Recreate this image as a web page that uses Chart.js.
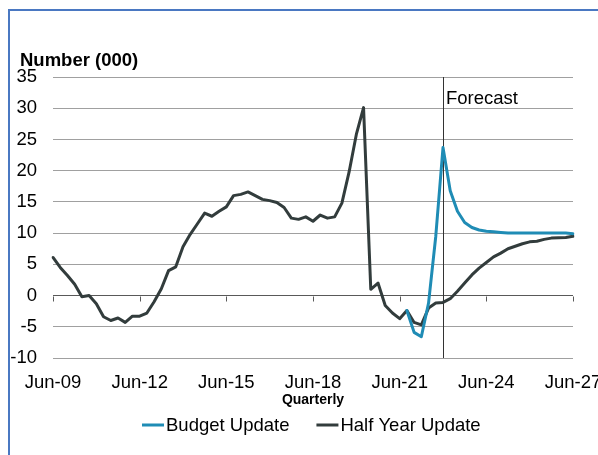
<!DOCTYPE html>
<html>
<head>
<meta charset="utf-8">
<script src="https://cdn.jsdelivr.net/npm/chart.js@4"></script>
<style>
  html, body { margin: 0; padding: 0; background: #fff; }
  .frame {
    position: absolute;
    left: 8px;
    top: 9px;
    width: 600px;
    height: 460px;
    border-top: 2px solid #4a78c2;
    border-left: 2px solid #4a78c2;
  }
  #chart { position: absolute; left: 0; top: 0; }
</style>
</head>
<body>
<div class="frame"></div>
<canvas id="chart" width="598" height="455"></canvas>
<script>
const quarters = [
  'Jun-09', 'Sep-09', 'Dec-09',
  'Mar-10', 'Jun-10', 'Sep-10', 'Dec-10',
  'Mar-11', 'Jun-11', 'Sep-11', 'Dec-11',
  'Mar-12', 'Jun-12', 'Sep-12', 'Dec-12',
  'Mar-13', 'Jun-13', 'Sep-13', 'Dec-13',
  'Mar-14', 'Jun-14', 'Sep-14', 'Dec-14',
  'Mar-15', 'Jun-15', 'Sep-15', 'Dec-15',
  'Mar-16', 'Jun-16', 'Sep-16', 'Dec-16',
  'Mar-17', 'Jun-17', 'Sep-17', 'Dec-17',
  'Mar-18', 'Jun-18', 'Sep-18', 'Dec-18',
  'Mar-19', 'Jun-19', 'Sep-19', 'Dec-19',
  'Mar-20', 'Jun-20', 'Sep-20', 'Dec-20',
  'Mar-21', 'Jun-21', 'Sep-21', 'Dec-21',
  'Mar-22', 'Jun-22', 'Sep-22', 'Dec-22',
  'Mar-23', 'Jun-23', 'Sep-23', 'Dec-23',
  'Mar-24', 'Jun-24', 'Sep-24', 'Dec-24',
  'Mar-25', 'Jun-25', 'Sep-25', 'Dec-25',
  'Mar-26', 'Jun-26', 'Sep-26', 'Dec-26',
  'Mar-27', 'Jun-27'
]

const tickLabels = ['Jun-09', 'Jun-12', 'Jun-15', 'Jun-18', 'Jun-21', 'Jun-24', 'Jun-27']
const forecastStart = 'Dec-22'

const halfYearUpdate = [
  6.1, 4.5, 3.2,
  1.8, -0.2, 0.0, -1.3,
  -3.4, -4.0, -3.6, -4.3,
  -3.3, -3.3, -2.8, -1.0,
  1.1, 4.0, 4.6, 7.8,
  9.8, 11.5, 13.2, 12.7,
  13.5, 14.2, 16.0, 16.2,
  16.6, 16.0, 15.4, 15.2,
  14.9, 14.1, 12.4, 12.2,
  12.6, 11.9, 12.9, 12.4,
  12.6, 14.8, 19.8, 25.8,
  30.1, 1.0, 2.0, -1.6,
  -2.8, -3.7, -2.4, -4.3,
  -4.7, -2.0, -1.2, -1.1,
  -0.5, 0.7, 2.0, 3.3,
  4.4, 5.3, 6.2, 6.8,
  7.5, 7.9, 8.3, 8.6,
  8.7, 9.0, 9.2, 9.25,
  9.3, 9.5
]

// budget update only differs from Sep-21 onwards
const budgetUpdate = Array(49).fill(null).concat([
  -2.4, -5.9,
  -6.6, -1.2, 9.5, 23.7,
  16.8, 13.5, 11.7, 10.9,
  10.5, 10.3, 10.2, 10.1,
  10.0, 10.0, 10.0, 10.0,
  10.0, 10.0, 10.0, 10.0,
  10.0, 9.9
])

const yMin = -10
const yMax = 35
const yStep = 5

const blue = '#1f8cb5'
const dark = '#323c3c'
const gridGray = '#a0a0a0'
const fontFamily = '"Liberation Sans", Arial, sans-serif'
const fontSize = 18.5

const extras = {
  id: 'extras',
  beforeDatasetsDraw(chart) {
    const { ctx, chartArea: a, scales: { x, y } } = chart
    ctx.save()
    ctx.lineWidth = 1
    // small ticks hanging from the zero line
    const y0 = Math.round(y.getPixelForValue(0)) + 0.5
    ctx.strokeStyle = '#595959'
    tickLabels.forEach(l => {
      const px = Math.round(x.getPixelForValue(quarters.indexOf(l))) + 0.5
      ctx.beginPath()
      ctx.moveTo(px, y0)
      ctx.lineTo(px, y0 + 5)
      ctx.stroke()
    })
    // forecast divider
    const fx = Math.round(x.getPixelForValue(quarters.indexOf(forecastStart))) + 0.5
    ctx.strokeStyle = '#333'
    ctx.beginPath()
    ctx.moveTo(fx, a.top)
    ctx.lineTo(fx, a.bottom)
    ctx.stroke()
    ctx.restore()
  },
  afterDraw(chart) {
    const { ctx, chartArea: a, scales: { x } } = chart
    ctx.save()
    ctx.fillStyle = '#000'
    ctx.textBaseline = 'alphabetic'

    const fx = x.getPixelForValue(quarters.indexOf(forecastStart))
    ctx.font = fontSize + 'px ' + fontFamily
    ctx.textAlign = 'left'
    ctx.fillText('Forecast', fx + 3, 104)

    ctx.font = 'bold ' + fontSize + 'px ' + fontFamily
    ctx.fillText('Number (000)', 20, 65.5)

    const mid = (a.left + a.right) / 2
    ctx.font = 'bold 14px ' + fontFamily
    ctx.textAlign = 'center'
    ctx.fillText('Quarterly', mid, 404)

    // legend
    ctx.font = fontSize + 'px ' + fontFamily
    ctx.textAlign = 'left'
    const items = chart.data.datasets.map(d => ({ text: d.label, color: d.borderColor }))
    const sample = 22, gap = 2, between = 27
    let total = 0
    items.forEach((it, i) => {
      it.w = ctx.measureText(it.text).width
      total += sample + gap + it.w + (i ? between : 0)
    })
    let lx = Math.round(mid - 2 - total / 2)
    const ly = 425
    items.forEach((it, i) => {
      if (i) lx += between
      ctx.strokeStyle = it.color
      ctx.lineWidth = 3
      ctx.beginPath()
      ctx.moveTo(lx, ly)
      ctx.lineTo(lx + sample, ly)
      ctx.stroke()
      lx += sample + gap
      ctx.fillText(it.text, lx, 430.5)
      lx += it.w
    })
    ctx.restore()
  }
}

Chart.defaults.font.family = fontFamily
Chart.defaults.font.size = fontSize
Chart.defaults.color = '#000'

new Chart(document.getElementById('chart'), {
  type: 'line',
  data: {
    labels: quarters,
    datasets: [
      {
        label: 'Budget Update',
        data: budgetUpdate,
        borderColor: blue,
        backgroundColor: blue,
        borderWidth: 3,
        borderJoinStyle: 'round',
        borderCapStyle: 'round',
        pointRadius: 0,
        tension: 0,
        fill: false
      },
      {
        label: 'Half Year Update',
        data: halfYearUpdate,
        borderColor: dark,
        backgroundColor: dark,
        borderWidth: 3,
        borderJoinStyle: 'round',
        borderCapStyle: 'round',
        pointRadius: 0,
        tension: 0,
        fill: false
      }
    ]
  },
  options: {
    responsive: false,
    animation: false,
    layout: { padding: { top: 77, right: 25, left: 0, bottom: 0 } },
    plugins: {
      legend: { display: false },
      tooltip: { enabled: false }
    },
    scales: {
      x: {
        type: 'category',
        offset: false,
        grid: { display: false, drawTicks: false },
        border: { display: false },
        ticks: {
          autoSkip: false,
          maxRotation: 0,
          padding: 14,
          font: { size: fontSize },
          callback(v, i) {
            const l = quarters[i]
            return tickLabels.includes(l) ? l : null
          }
        },
        afterFit(scale) {
          scale.height = 97
          scale.paddingLeft = 0
          scale.paddingRight = 0
        }
      },
      y: {
        min: yMin,
        max: yMax,
        grid: {
          drawTicks: false,
          lineWidth: 1,
          color: c => (c.tick && c.tick.value === 0 ? '#595959' : gridGray)
        },
        border: { display: false },
        ticks: {
          stepSize: yStep,
          padding: 16,
          font: { size: fontSize }
        },
        afterFit(scale) {
          scale.width = 53
          scale.paddingTop = 0
          scale.paddingBottom = 0
        }
      }
    }
  },
  plugins: [extras]
})
</script>
</body>
</html>
